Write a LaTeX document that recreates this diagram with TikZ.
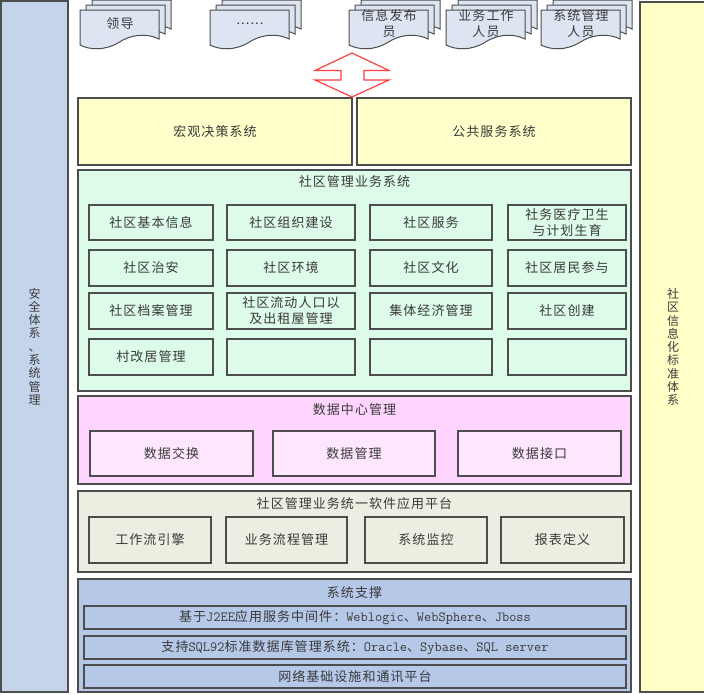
\documentclass[tikz,border=0pt]{standalone}
\usepackage{fontspec}
\setmainfont{Noto Sans CJK SC}[LetterSpace=8]
\usetikzlibrary{positioning}
\definecolor{colL}{HTML}{C5D4EB}
\definecolor{colR}{HTML}{FFFFC7}
\definecolor{docf}{HTML}{DDE5F2}
\definecolor{yel}{HTML}{FFFFCC}
\definecolor{grn}{HTML}{DCFBE9}
\definecolor{pnk}{HTML}{FFD5FF}
\definecolor{pnkin}{HTML}{FFE6FF}
\definecolor{bge}{HTML}{EDEDE1}
\definecolor{blu}{HTML}{B5C8E8}
\definecolor{bord}{HTML}{4D4D4D}
\definecolor{txt}{HTML}{3A3A3A}
\definecolor{arr}{HTML}{FF4040}
\newcommand\lt[1]{{\fontsize{14}{14}\ttfamily #1}}
\newcommand\mkbox[7]{\node[#6,minimum width={(#4-#2)*1pt},minimum height={(#5-#3)*1pt}] (#1) at (#2,#3) {#7};}
\newcommand\docshape[2]{%
  \begin{scope}[shift={(#1,#2)}]
    \draw[docst] (0,0) -- (79,0) -- (79,29) .. controls (69,24) and (54,23) .. (39.5,32)
      .. controls (25,41) and (10,40) .. (0,35) -- cycle;
  \end{scope}}
\newcommand\mkdoc[3]{%
  \docshape{#2+12}{0}\docshape{#2+6}{5}\docshape{#2}{10}%
  \node[lbl] (#1) at (#2+40,23.5) {#3};}
\begin{document}
\begin{tikzpicture}[x=1pt,y=-1pt,
  font=\fontsize{13}{16}\selectfont, text=txt,
  bx/.style={draw=bord, line width=1.8pt, inner sep=0pt, outer sep=0pt, anchor=north west, align=center},
  ib/.style={bx, line width=1.4pt},
  lbl/.style={inner sep=0pt, outer sep=0pt, align=center},
  vt/.style={font=\fontsize{12}{13.3}\selectfont},
  docst/.style={draw=bord, line width=1pt, fill=docf}]
\useasboundingbox (0,0) rectangle (704,694);
% side columns
\mkbox{safe}{1}{1}{68}{692}{bx,fill=colL,line width=1.4pt,vt}{安\\全\\体\\系\\、\\系\\统\\管\\理}
\mkbox{std}{640}{2}{706}{692}{bx,fill=colR,line width=1.4pt,vt}{社\\区\\信\\息\\化\\标\\准\\体\\系}
% documents (users)
\mkdoc{ld}{80}{领导}
\mkdoc{etc}{210}{......}
\mkdoc{xx}{349}{信息发布\\员}
\mkdoc{yw}{446}{业务工作\\人员}
\mkdoc{xt}{541}{系统管理\\人员}
% yellow systems
\mkbox{hg}{78}{98}{352}{165}{bx,fill=yel}{宏观决策系统}
\mkbox{gg}{357}{98}{631}{165}{bx,fill=yel}{公共服务系统}
% double arrow
\draw[draw=arr, line width=1.2pt, fill=white, line join=miter]
  (352,53) -- (389,70.5) -- (364,70.5) -- (364,80) -- (389,80) -- (352,97)
  -- (315,80) -- (341,80) -- (341,70.5) -- (315,70.5) -- cycle;
% community management business system
\mkbox{sq}{78}{170}{631}{391}{bx,fill=grn}{}
\node[lbl] (sqT) at (354.5,182) {社区管理业务系统};
\mkbox{a1}{89}{205}{213}{240}{ib,fill=grn}{社区基本信息}
\mkbox{a2}{227}{205}{355}{240}{ib,fill=grn}{社区组织建设}
\mkbox{a3}{370}{205}{492}{240}{ib,fill=grn}{社区服务}
\mkbox{a4}{508}{205}{626}{240}{ib,fill=grn}{社务医疗卫生\\与计划生育}
\mkbox{b1}{89}{250}{213}{286}{ib,fill=grn}{社区治安}
\mkbox{b2}{227}{250}{355}{286}{ib,fill=grn}{社区环境}
\mkbox{b3}{370}{250}{492}{286}{ib,fill=grn}{社区文化}
\mkbox{b4}{508}{250}{626}{286}{ib,fill=grn}{社区居民参与}
\mkbox{c1}{89}{293}{213}{329}{ib,fill=grn}{社区档案管理}
\mkbox{c2}{227}{293}{355}{329}{ib,fill=grn}{社区流动人口以\\及出租屋管理}
\mkbox{c3}{370}{293}{492}{329}{ib,fill=grn}{集体经济管理}
\mkbox{c4}{508}{293}{626}{329}{ib,fill=grn}{社区创建}
\mkbox{d1}{89}{339}{213}{375}{ib,fill=grn}{村改居管理}
\mkbox{d2}{227}{339}{355}{375}{ib,fill=grn}{}
\mkbox{d3}{370}{339}{492}{375}{ib,fill=grn}{}
\mkbox{d4}{508}{339}{626}{375}{ib,fill=grn}{}
% data center
\mkbox{dc}{78}{396}{631}{484}{bx,fill=pnk}{}
\node[lbl] (dcT) at (354.5,410) {数据中心管理};
\mkbox{e1}{90}{431}{253}{476}{ib,fill=pnkin}{数据交换}
\mkbox{e2}{273}{431}{435}{476}{ib,fill=pnkin}{数据管理}
\mkbox{e3}{458}{431}{621}{476}{ib,fill=pnkin}{数据接口}
% unified platform
\mkbox{pf}{78}{491}{631}{572}{bx,fill=bge}{}
\node[lbl] (pfT) at (354.5,504) {社区管理业务统一软件应用平台};
\mkbox{f1}{89}{517}{211}{563}{ib,fill=bge}{工作流引擎}
\mkbox{f2}{226}{517}{347}{563}{ib,fill=bge}{业务流程管理}
\mkbox{f3}{365}{517}{487}{563}{ib,fill=bge}{系统监控}
\mkbox{f4}{501}{517}{624}{563}{ib,fill=bge}{报表定义}
% system support
\mkbox{ss}{78}{579}{631}{692}{bx,fill=blu}{}
\node[lbl] (ssT) at (354.5,593) {系统支撑};
\mkbox{g1}{84}{606}{626}{629}{ib,fill=blu}{基于\lt{J2EE}应用服务中间件：\lt{Weblogic}、\lt{WebSphere}、\lt{Jboss}}
\mkbox{g2}{84}{636}{626}{659}{ib,fill=blu}{支持\lt{SQL92}标准数据库管理系统：\lt{Oracle}、\lt{Sybase}、\lt{SQL server}}
\mkbox{g3}{84}{665}{626}{688}{ib,fill=blu}{网络基础设施和通讯平台}
\end{tikzpicture}
\end{document}
